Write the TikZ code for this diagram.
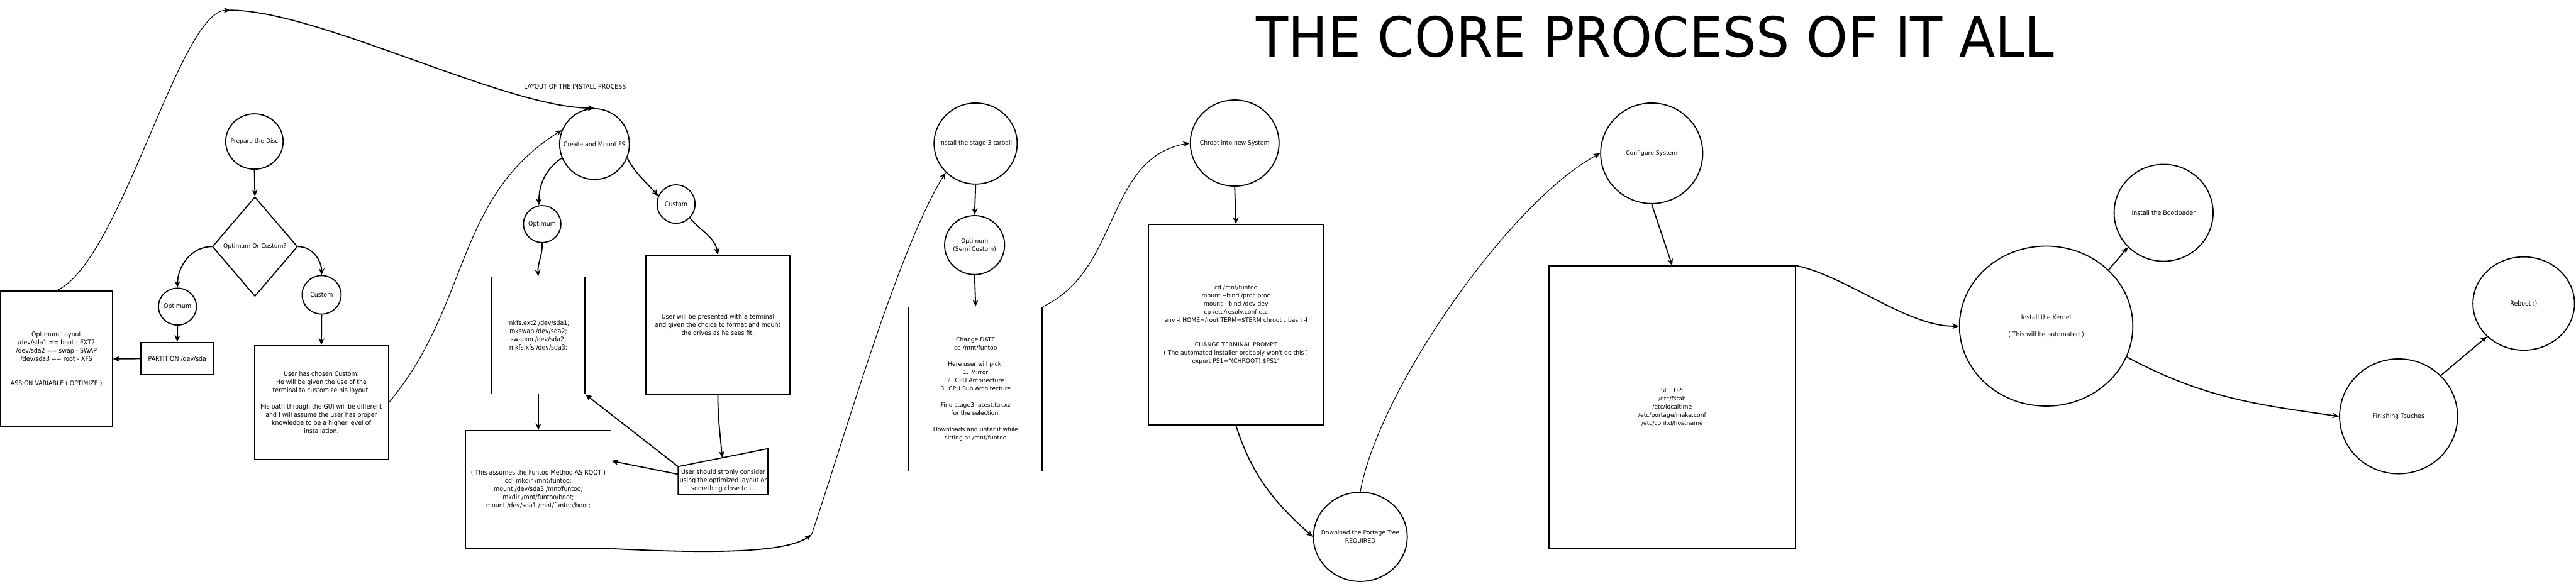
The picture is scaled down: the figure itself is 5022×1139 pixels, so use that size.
\documentclass[tikz,border=0pt]{standalone}
\usepackage{fontspec}
\setmainfont{DejaVu Sans}
\newfontfamily\verdfont{DejaVu Sans}
\newfontfamily\tahfont[FakeStretch=0.9]{DejaVu Sans}
\usetikzlibrary{shapes.geometric,arrows.meta,calc}
\begin{document}
\begin{tikzpicture}[x=0.1mm,y=0.1mm,
  shp/.style={draw, line width=0.22mm, inner sep=0pt},
  boxs/.style={shp, rectangle},
  ell/.style={shp, ellipse},
  vt/.style={font=\verdfont\fontsize{3.22pt}{4.55pt}\selectfont, align=center, inner sep=0pt},
  tt/.style={font=\tahfont\fontsize{3.65pt}{4.55pt}\selectfont, align=center, inner sep=0pt},
  conn/.style={line width=0.22mm, -{Stealth[length=1.3mm,width=1.1mm]}},
  thinconn/.style={line width=0.14mm, -{Stealth[length=1.3mm,width=1.1mm]}}]
\useasboundingbox (0,0) rectangle (5022,-1139);
\fill[white] (0,0) rectangle (5022,-1139);

% title
\node[inner sep=0pt, anchor=south west] (title) at (2448,-113)
  {\resizebox{155.6mm}{8.0mm}{\verdfont THE CORE PROCESS OF IT ALL}};
\node[tt] (layout) at (1121,-169) {LAYOUT OF THE INSTALL PROCESS};

% left part
\node[boxs, tt, minimum width=21.8mm, minimum height=26.4mm] (optbox) at (110,-700)
  {Optimum Layout\\/dev/sda1 == boot - EXT2\\/dev/sda2 == swap - SWAP\\/dev/sda3 == root - XFS\\[9.1pt]ASSIGN VARIABLE ( OPTIMIZE )};
\node[ell, minimum width=11.2mm, minimum height=10.8mm, label={[vt]center:Prepare the Disc}] (prep) at (496,-276) {};
\node[shp, diamond, minimum width=16.6mm, minimum height=19.4mm, label={[vt]center:Optimum Or Custom?}] (diam) at (497,-481) {};
\node[ell, minimum width=7.4mm, minimum height=7.2mm, label={[tt]center:Optimum}] (opt1) at (346,-598) {};
\node[boxs, tt, minimum width=14.1mm, minimum height=6.3mm] (part) at (345.5,-699.5) {PARTITION /dev/sda};
\node[ell, minimum width=7.6mm, minimum height=7.5mm, label={[tt]center:Custom}] (cust1) at (627,-575) {};
\node[boxs, tt, minimum width=26.1mm, minimum height=22.2mm] (custbox) at (626.5,-785)
  {User has chosen Custom.\\He will be given the use of the\\terminal to customize his layout.\\[4.55pt]His path through the GUI will be different\\and I will assume the user has proper\\knowledge to be a higher level of\\installation.};

% create and mount
\node[ell, minimum width=13.6mm, minimum height=13.8mm, label={[tt]center:Create and Mount FS}] (cm) at (1159,-281) {};
\node[ell, minimum width=7.3mm, minimum height=7.2mm, label={[tt]center:Optimum}] (opt2) at (1057,-437) {};
\node[ell, minimum width=7.4mm, minimum height=7.5mm, label={[tt]center:Custom}] (cust2) at (1318,-398) {};
\node[boxs, tt, minimum width=18.1mm, minimum height=22.8mm] (mkfs) at (1049.5,-654)
  {mkfs.ext2 /dev/sda1;\\mkswap /dev/sda2;\\swapon /dev/sda2;\\mkfs.xfs /dev/sda3;};
\node[boxs, tt, minimum width=28.1mm, minimum height=27.1mm] (userbox) at (1399.5,-633.5)
  {User will be presented with a terminal\\and given the choice to format and mount\\the drives as he sees fit.};
\node[boxs, tt, minimum width=28.3mm, minimum height=22.9mm] (funtoo) at (1049.5,-954.5)
  {( This assumes the Funtoo Method AS ROOT )\\cd; mkdir /mnt/funtoo;\\mount /dev/sda3 /mnt/funtoo;\\mkdir /mnt/funtoo/boot;\\mount /dev/sda1 /mnt/funtoo/boot;};
\coordinate (t1) at (1322,-910);
\coordinate (t2) at (1497,-875);
\coordinate (t3) at (1497,-965);
\coordinate (t4) at (1322,-965);
\coordinate (ttop) at (1408,-893);
\coordinate (tmid) at (1322,-925);
\draw[line width=0.22mm] (t1) -- (t2) -- (t3) -- (t4) -- cycle;
\node[tt] (trtext) at (1410,-938) {User should stronly consider\\using the optimized layout or\\something close to it.};

% waypoints
\coordinate (w1) at (449,-20);
\coordinate (w2) at (1582,-1043);

% stage 3
\node[ell, minimum width=16.2mm, minimum height=15.8mm, label={[vt]center:Install the stage 3 tarball}] (st3) at (1902,-280) {};
\node[ell, minimum width=11.7mm, minimum height=11.5mm, label={[vt]center:{Optimum\\(Semi Custom)}}] (semi) at (1900,-478) {};
\node[boxs, vt, minimum width=26.0mm, minimum height=32.0mm] (datebox) at (1902,-759)
  {Change DATE\\cd /mnt/funtoo\\[4.55pt]Here user will pick;\\1. Mirror\\2. CPU Architecture\\3. CPU Sub Architecture\\[4.55pt]Find stage3-latest.tar.xz\\for the selection.\\[4.55pt]Downloads and untar it while\\sitting at /mnt/funtoo};

% chroot
\node[ell, minimum width=17.3mm, minimum height=16.8mm, label={[vt]center:Chroot into new System}] (chroot) at (2407,-279) {};
\node[boxs, vt, minimum width=34.1mm, minimum height=39.1mm] (chbox) at (2409.5,-633.5)
  {cd /mnt/funtoo\\mount -{}-bind /proc proc\\mount -{}-bind /dev dev\\cp /etc/resolv.conf etc\\env -i HOME=/root TERM=\$TERM chroot . bash -l\\[9.1pt]CHANGE TERMINAL PROMPT\\( The automated installer probably won't do this )\\export PS1="(CHROOT) \$PS1"};
\node[ell, minimum width=18.3mm, minimum height=17.4mm, label={[vt]center:{Download the Portage Tree\\REQUIRED}}] (dl) at (2652,-1047) {};

% configure
\node[ell, minimum width=19.9mm, minimum height=19.6mm, label={[vt]center:Configure System}] (config) at (3220,-299) {};
\node[boxs, vt, minimum width=48.0mm, minimum height=55.0mm] (setup) at (3260,-794)
  {SET UP:\\/etc/fstab\\/etc/localtime\\/etc/portage/make.conf\\/etc/conf.d/hostname};

% kernel etc
\node[ell, minimum width=33.8mm, minimum height=31.2mm, label={[tt]center:{Install the Kernel\\[4.55pt]( This will be automated )}}] (kernel) at (3989,-636) {};
\node[ell, minimum width=19.3mm, minimum height=18.9mm, label={[tt]center:Install the Bootloader}] (boot) at (4218,-415) {};
\node[ell, minimum width=23.0mm, minimum height=22.4mm, label={[tt]center:Finishing Touches}] (finish) at (4676,-812) {};
\node[ell, minimum width=19.8mm, minimum height=18.2mm, label={[tt]center:Reboot :)}] (reboot) at (4920,-592) {};

% connectors
\draw[conn] (prep.south) -- (diam.north);
\draw[conn] (diam.west) to[out=180,in=90] (opt1.north);
\draw[conn] (diam.east) to[out=0,in=90] (cust1.north);
\draw[conn] (opt1.south) -- (part.north);
\draw[conn] (part.west) -- (optbox.east);
\draw[conn] (cust1.south) -- (custbox.north);
\draw[thinconn] (custbox.east) to[out=50,in=212] (cm.157);
\draw[thinconn] (optbox.north) .. controls +(126,56) and +(-100,0) .. (w1);
\draw[conn] (w1) .. controls +(171,0) and +(-173,0) .. (cm.north);
\draw[conn] (cm.203) to[out=215,in=90] (opt2.100);
\draw[conn] (cm.337) to[out=-62,in=130] (cust2.156);
\draw[conn] (opt2.south) to[out=-88,in=95] (mkfs.north);
\draw[conn] (cust2.-45) to[out=-50,in=100] (userbox.north);
\draw[conn] (mkfs.south) -- (funtoo.north);
\draw[conn] (userbox.south) to[out=-90,in=95] (ttop);
\draw[conn] (t1) -- (mkfs.south east);
\draw[conn] (tmid) -- ($(funtoo.north east)!0.26!(funtoo.south east)$);
\draw[conn] (funtoo.south east) .. controls +(200,-10) and +(-50,-35) .. (w2);
\draw[thinconn] (w2) to[out=71,in=238,looseness=0.6] (st3.224);
\draw[conn] (st3.south) -- (semi.north);
\draw[conn] (semi.south) -- (datebox.north);
\draw[thinconn] (datebox.north east) to[out=25,in=190] (chroot.west);
\draw[conn] (chroot.south) -- (chbox.north);
\draw[conn] (chbox.south) to[out=-72,in=138] (dl.west);
\draw[thinconn] (dl.north) .. controls +(35,197) and +(-177,-95) .. (config.west);
\draw[conn] (config.south) -- (setup.north);
\draw[conn] (setup.north east) .. controls +(100,-21) and +(-100,-2) .. (kernel.west);
\draw[conn] (kernel.42) -- (boot.224);
\draw[conn] (kernel.-21) to[out=-28,in=172] (finish.west);
\draw[conn] (finish.44) -- (reboot.222);
\end{tikzpicture}
\end{document}
